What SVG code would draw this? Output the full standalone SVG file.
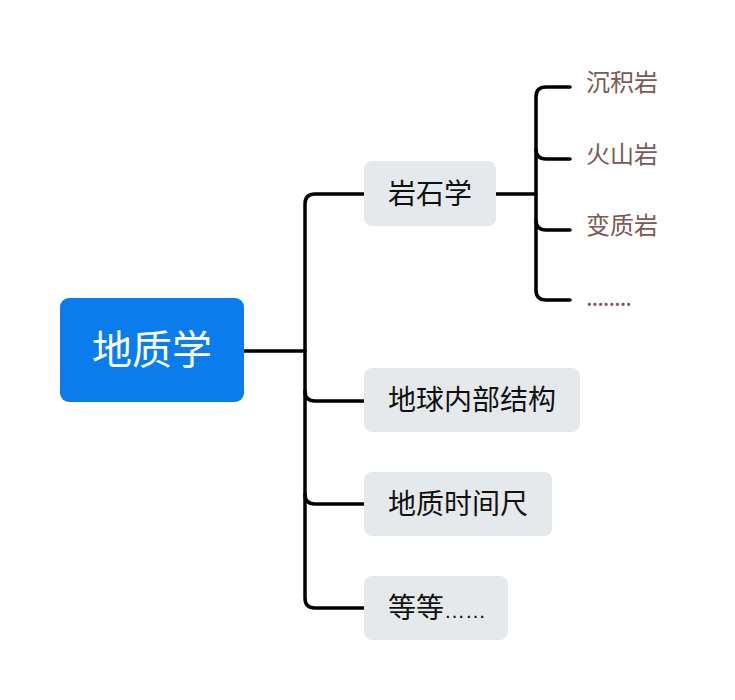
<svg xmlns="http://www.w3.org/2000/svg" width="735" height="700" viewBox="0 0 735 700">
<style>
.cn{font-family:"Noto Sans CJK SC","Noto Sans",sans-serif;}
.sub{fill:#E6E9EC;}
.st{font-size:28px;fill:#111;}
.lf{font-size:24px;fill:#7A5A56;}
.ln{fill:none;stroke:#000;stroke-width:3.5;stroke-linecap:round;}
</style>
<rect width="735" height="700" fill="#fff"/>
<g id="connectors">
<path class="ln" d="M244 351 H305"/>
<path class="ln" d="M364 194 H315 Q305 194 305 204 V598 Q305 608 315 608 H364"/>
<path class="ln" d="M305 391 Q305 401 315 401 H364"/>
<path class="ln" d="M305 494 Q305 504 315 504 H364"/>
<path class="ln" d="M496 194 H536"/>
<path class="ln" d="M570 87 H546 Q536 87 536 97 V290 Q536 300 546 300 H570"/>
<path class="ln" d="M536 149 Q536 159 546 159 H570"/>
<path class="ln" d="M536 220 Q536 230 546 230 H570"/>
</g>
<g id="root">
<rect x="60" y="298" width="184" height="104" rx="9" fill="#0A7CEE"/>
<text class="cn" x="152" y="364" font-size="40" fill="#fff" text-anchor="middle">地质学</text>
</g>
<g id="n-rock">
<rect class="sub" x="364" y="161" width="132" height="65" rx="8"/>
<text class="cn st" x="388" y="204">岩石学</text>
</g>
<g id="n-interior">
<rect class="sub" x="364" y="368" width="216" height="64" rx="8"/>
<text class="cn st" x="388" y="410">地球内部结构</text>
</g>
<g id="n-time">
<rect class="sub" x="364" y="472" width="188" height="64" rx="8"/>
<text class="cn st" x="388" y="514">地质时间尺</text>
</g>
<g id="n-etc">
<rect class="sub" x="364" y="576" width="144" height="64" rx="8"/>
<text class="cn st" x="388" y="618">等等<tspan font-family="Liberation Sans, sans-serif" font-size="21">……</tspan></text>
</g>
<g id="l-sed"><text class="cn lf" x="586" y="91">沉积岩</text></g>
<g id="l-vol"><text class="cn lf" x="586" y="163">火山岩</text></g>
<g id="l-meta"><text class="cn lf" x="586" y="234">变质岩</text></g>
<g id="l-more"><text class="cn lf" x="586" y="306" textLength="46">........</text></g>
</svg>
